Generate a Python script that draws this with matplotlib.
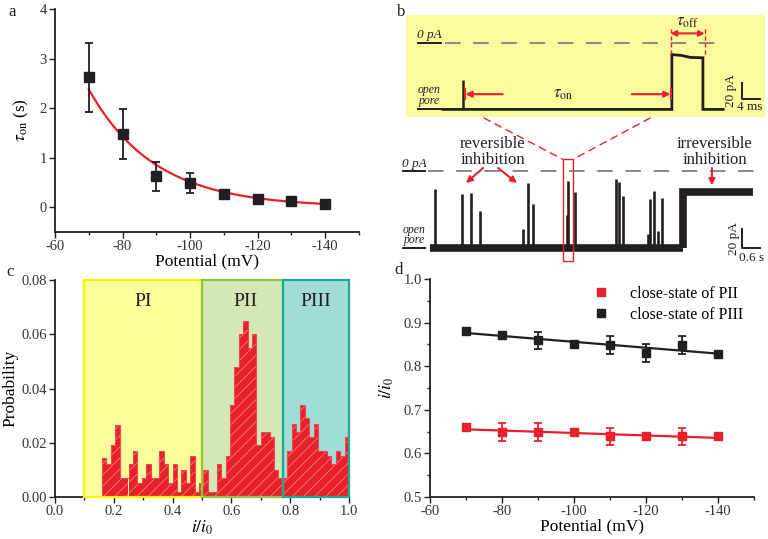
import numpy as np
import matplotlib
matplotlib.use('Agg')
import matplotlib.pyplot as plt
from matplotlib.patches import Rectangle, ConnectionPatch
from matplotlib.lines import Line2D
from matplotlib.ticker import MultipleLocator, FormatStrFormatter

plt.rcParams['font.family'] = ['Liberation Serif', 'DejaVu Serif']
plt.rcParams['mathtext.fontset'] = 'stix'
plt.rcParams['axes.unicode_minus'] = False
plt.rcParams['hatch.color'] = '#f39088'
plt.rcParams['hatch.linewidth'] = 0.5

RED = '#e8202a'
INK = '#231f20'

# ---- panel a: tau_on vs potential ----
potential = [-70, -80, -90, -100, -110, -120, -130, -140]
tau_on = [2.62, 1.48, 0.62, 0.49, 0.27, 0.17, 0.12, 0.07]
tau_on_err = [0.70, 0.50, 0.30, 0.20, 0.04, 0.04, 0.03, 0.02]
fit_amp, fit_scale = 2.38, 19.5  # exponential fit

# ---- panel c: histogram of i/i0 ----
hist_start, hist_width = 0.16, 0.015
hist_prob = [0.0145, 0.012, 0.019, 0.0265, 0.007, 0.007, 0.012, 0.017, 0.005, 0.007,
             0.012, 0.007, 0.007, 0.017, 0.012, 0.005, 0.012, 0.002, 0.010, 0.005,
             0.015, 0.002, 0.005,
             0.010, 0.002, 0.002, 0.012, 0.007, 0.015, 0.034, 0.048, 0.060, 0.065,
             0.055, 0.060, 0.019, 0.024, 0.024, 0.022, 0.010, 0.007,
             0.007, 0.017, 0.027, 0.024, 0.034, 0.029, 0.022, 0.027, 0.017, 0.017,
             0.015, 0.012, 0.017, 0.015, 0.022]
regions = [('PI', 0.1, 0.5, '#fdfd9c', '#f4f400'),
           ('PII', 0.5, 0.775, '#d4e8b6', '#8dc63f'),
           ('PIII', 0.775, 1.0, '#a0dcd8', '#1ea89c')]

# ---- panel d: close-state levels ----
pii = [0.660, 0.649, 0.649, 0.649, 0.639, 0.639, 0.639, 0.639]
pii_err = [0.006, 0.02, 0.02, 0.006, 0.02, 0.006, 0.02, 0.006]
piii = [0.881, 0.872, 0.859, 0.851, 0.849, 0.830, 0.849, 0.829]
piii_err = [0.007, 0.007, 0.02, 0.007, 0.02, 0.02, 0.02, 0.007]

# ---- panel b: current traces (s / ms, pA) ----
open_pA = -81
spike_t = [0.17, 1.06, 1.36, 1.68, 3.09, 3.26, 3.42, 4.57, 4.61, 4.84,
           6.20, 6.31, 6.44, 7.28, 7.33, 7.48, 7.61, 7.72]
spike_pA = [-19, -24.5, -22.8, -41.8, -60.7, -12.3, -35, -46.3, -10.5, -22.4,
            -8.4, -11.9, -26.3, -66.3, -29.8, -21, -63.2, -28.4]
irrev_start, irrev_end, irrev_pA = 8.44, 10.77, -22
zoom_t = (4.43, 4.77)

inset_open_pA = -83
inset_end = 62.3
inset_spike = (4.4, -46)
close_t = [50.9, 53.0, 55.0, 57.8]
close_pA = [-14.5, -15.5, -18, -18.5]

W, H = 768, 539
fig = plt.figure(figsize=(W / 100, H / 100), dpi=100)


def px_axes(l, t, r, b):
    return fig.add_axes([l / W, 1 - b / H, (r - l) / W, (b - t) / H])


def style(ax):
    for s in ['top', 'right']:
        ax.spines[s].set_visible(False)
    for s in ['left', 'bottom']:
        ax.spines[s].set_linewidth(1.3)
        ax.spines[s].set_color(INK)
    ax.tick_params(which='both', direction='out', width=1, colors=INK,
                   labelsize=10.5, labelcolor='#333333', pad=2)
    ax.tick_params(which='major', length=4)
    ax.tick_params(which='minor', length=2)


# panel a
ax = px_axes(55, 9, 359, 232)
style(ax)
vfit = np.linspace(-70, -140, 100)
ax.plot(vfit, fit_amp * np.exp((vfit + 70) / fit_scale), color=RED, lw=1.6, zorder=2)
ax.errorbar(potential, tau_on, yerr=tau_on_err, fmt='s', color=INK, ms=7,
            capsize=3, elinewidth=1.3, capthick=1.3, zorder=3)
ax.set_xlim(-60, -150)
ax.set_ylim(-0.5, 4)
ax.xaxis.set_major_locator(MultipleLocator(20))
ax.xaxis.set_minor_locator(MultipleLocator(10))
ax.yaxis.set_major_locator(MultipleLocator(1))
ax.set_xlabel('Potential (mV)', fontsize=12.5, labelpad=0)
ax.set_ylabel(r'$\tau_{\rm on}$ (s)', fontsize=12.5, labelpad=6)

# panel c
ax = px_axes(55, 280, 349, 497)
style(ax)
for name, x0, x1, fc, ec in regions:
    ax.add_patch(Rectangle((x0, 0), x1 - x0, 0.08, facecolor=fc, edgecolor='none', zorder=0.5))
    ax.add_patch(Rectangle((x0, 0), x1 - x0, 0.08, facecolor='none', edgecolor=ec,
                           lw=1.6, zorder=4, clip_on=False))
    ax.text((x0 + x1) / 2 + (0.01 if name == 'PII' else 0), 0.072, name,
            ha='center', va='center', fontsize=14, color=INK, zorder=5)
edges = hist_start + hist_width * np.arange(len(hist_prob) + 1)
ax.bar(edges[:-1], hist_prob, width=hist_width, align='edge', color=RED,
       hatch='///', linewidth=0, zorder=2)
ax.stairs(hist_prob, edges, color='#ea4a50', lw=0.8, zorder=3)
ax.set_xlim(0, 1.0)
ax.set_ylim(0, 0.08)
ax.xaxis.set_major_locator(MultipleLocator(0.2))
ax.xaxis.set_minor_locator(MultipleLocator(0.1))
ax.yaxis.set_major_locator(MultipleLocator(0.02))
ax.xaxis.set_major_formatter(FormatStrFormatter('%.1f'))
ax.yaxis.set_major_formatter(FormatStrFormatter('%.2f'))
ax.set_xlabel(r'$i/i_0$', fontsize=12.5, labelpad=0)
ax.set_ylabel('Probability', fontsize=12.5, labelpad=2)

# panel d
ax = px_axes(430, 279, 754, 497)
style(ax)
vx = np.array(potential)
for vals, err, col in [(pii, pii_err, RED), (piii, piii_err, INK)]:
    k, b = np.polyfit(vx, vals, 1)
    ax.plot([-70, -140], [k * -70 + b, k * -140 + b], color=col, lw=1.6, zorder=2)
    ax.errorbar(potential, vals, yerr=err, fmt='s', color=col, ms=5.5,
                capsize=3, elinewidth=1.3, capthick=1.3, zorder=3)
ax.set_xlim(-60, -150)
ax.set_ylim(0.5, 1.0)
ax.xaxis.set_major_locator(MultipleLocator(20))
ax.xaxis.set_minor_locator(MultipleLocator(10))
ax.yaxis.set_major_locator(MultipleLocator(0.1))
ax.yaxis.set_minor_locator(MultipleLocator(0.05))
ax.yaxis.set_major_formatter(FormatStrFormatter('%.1f'))
ax.set_xlabel('Potential (mV)', fontsize=12.5, labelpad=0)
ax.set_ylabel(r'$i/i_0$', fontsize=12.5, labelpad=5)
handles = [Line2D([], [], marker='s', ls='none', color=RED, ms=6),
           Line2D([], [], marker='s', ls='none', color=INK, ms=6)]
ax.legend(handles, ['close-state of PII', 'close-state of PIII'], loc='upper right',
          frameon=False, fontsize=11.5, handletextpad=0.8, borderaxespad=0.3,
          labelspacing=0.3, bbox_to_anchor=(1.0, 1.02))

# panel b - main trace (time in s, current in pA)
bm = px_axes(400, 125, 765, 268)
bm.set_xlim(-1.0, 11.17)
bm.set_ylim(-101.9, 48.4)
bm.axis('off')
dash = (0, (8, 6.5))
bm.plot([-0.07, 10.9], [0, 0], color='#888888', lw=1.4, linestyle=dash)
bm.plot([-0.9, -0.17], [0, 0], color=INK, lw=1.4)
bm.text(-0.53, 1.5, '0 pA', ha='center', va='bottom', fontsize=9.5, style='italic', color=INK)
bm.plot([-0.9, -0.17], [open_pA, open_pA], color=INK, lw=1.4)
bm.text(-0.53, open_pA + 2, 'open\npore', ha='center', va='bottom', fontsize=8.5,
        style='italic', color=INK, linespacing=0.85)
bm.plot([0, irrev_start], [open_pA, open_pA], color=INK, lw=5.5, solid_capstyle='butt')
bm.vlines(spike_t, open_pA, spike_pA, color=INK, lw=1.9)
bm.plot([irrev_start, irrev_start, irrev_end], [open_pA, irrev_pA, irrev_pA],
        color=INK, lw=5.5, solid_capstyle='butt', solid_joinstyle='miter')
bm.plot([10.39, 10.39, 11.0], [-61.4, -81.4, -81.4], color=INK, lw=1.4)
bm.text(10.15, -71.4, '20 pA', rotation=90, ha='center', va='center', fontsize=9.5, color=INK)
bm.text(10.72, -85, '0.6 s', ha='center', va='top', fontsize=9.5, color=INK)
bm.add_patch(Rectangle((zoom_t[0], -94.4), zoom_t[1] - zoom_t[0], 106.7, fill=False,
                       edgecolor=RED, lw=1.0, zorder=5))
bm.text(2.1, 20, 'reversible\ninhibition', ha='center', va='center', fontsize=12,
        color=INK, linespacing=1.0)
bm.text(9.5, 20, 'irreversible\ninhibition', ha='center', va='center', fontsize=12,
        color=INK, linespacing=1.0)
arrow = dict(arrowstyle='-|>', color=RED, lw=1.5, mutation_scale=9, shrinkA=0, shrinkB=0)
bm.annotate('', xy=(1.2, -12.6), xytext=(1.77, 3.2), arrowprops=arrow)
bm.annotate('', xy=(2.9, -12.6), xytext=(2.27, 3.2), arrowprops=arrow)
bm.annotate('', xy=(9.4, -15), xytext=(9.4, 3.2), arrowprops=arrow)

# panel b - inset (time in ms, current in pA)
bi = px_axes(406, 15, 765, 117)
bi.set_xlim(-8.2, 71.6)
bi.set_ylim(-92.5, 35)
bi.set_xticks([])
bi.set_yticks([])
for s in bi.spines.values():
    s.set_visible(False)
bi.set_facecolor('#fbfb9e')
bi.plot([0.4, 62.7], [0, 0], color='#888888', lw=1.4, linestyle=dash)
bi.plot([-5.5, -0.5], [0, 0], color=INK, lw=1.4)
bi.text(-3.0, 2.5, '0 pA', ha='center', va='bottom', fontsize=9.5, style='italic', color=INK)
bi.plot([-5.5, -0.5], [inset_open_pA, inset_open_pA], color=INK, lw=1.4)
bi.text(-3.0, inset_open_pA + 3, 'open\npore', ha='center', va='bottom', fontsize=8.5,
        style='italic', color=INK, linespacing=0.85)
tr_t = [0, close_t[0]] + close_t + [close_t[-1], inset_end]
tr_pA = [inset_open_pA, inset_open_pA] + close_pA + [inset_open_pA, inset_open_pA]
bi.plot(tr_t, tr_pA, color=INK, lw=2.0, solid_joinstyle='miter')
bi.vlines(inset_spike[0], inset_open_pA, inset_spike[1], color=INK, lw=1.8)
# tau_on arrows
for tail, head in [(13.3, 5.0), (42.0, 50.6)]:
    bi.annotate('', xy=(head, -64), xytext=(tail, -64), arrowprops=arrow)
    bi.plot([head, head], [-58, -70], color=RED, lw=1.5)
bi.text(26.7, -64, r'$\tau_{\rm on}$', ha='center', va='center', fontsize=12, color=INK)
# tau_off
bi.annotate('', xy=(50.6, 12), xytext=(58.2, 12),
            arrowprops=dict(arrowstyle='<|-|>', color=RED, lw=1.5, mutation_scale=8,
                            shrinkA=0, shrinkB=0))
for tt in [50.6, 58.2]:
    bi.plot([tt, tt], [17, -14], color=RED, lw=1.0, linestyle=(0, (3, 2)))
bi.text(54.4, 16, r'$\tau_{\rm off}$', ha='center', va='bottom', fontsize=12, color=INK)
bi.plot([66.4, 66.4, 70.4], [-50.4, -70, -70], color=INK, lw=1.4)
bi.text(64.0, -60, '20 pA', rotation=90, ha='center', va='center', fontsize=9.5, color=INK)
bi.text(68.3, -73, '4 ms', ha='center', va='top', fontsize=9.5, color=INK)

# dashed zoom connectors from inset to red box
for fx, bx in [(0.217, zoom_t[0]), (0.68, zoom_t[1])]:
    con = ConnectionPatch(xyA=(fx, -0.01), coordsA=bi.transAxes,
                          xyB=(bx, 12.3), coordsB=bm.transData,
                          color=RED, lw=1.0, linestyle=(0, (5, 4)))
    fig.add_artist(con)

for lab, x, y in [('a', 8, 12), ('b', 397, 12), ('c', 6, 272), ('d', 394, 270)]:
    fig.text(x / W, 1 - y / H, lab, fontsize=12, ha='left', va='center', color=INK)

fig.savefig('out.png', dpi=100)
